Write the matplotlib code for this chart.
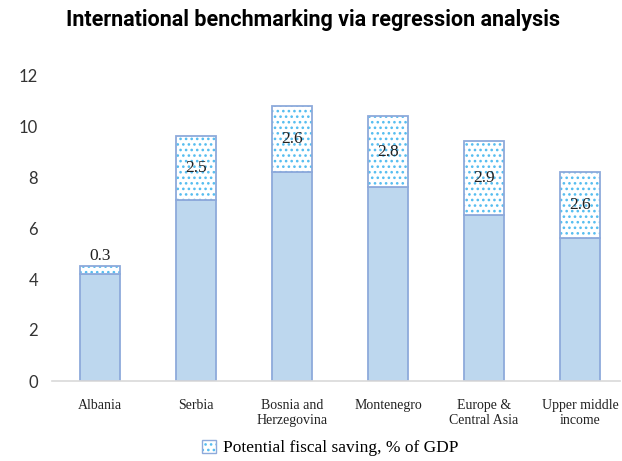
import matplotlib
matplotlib.use("Agg")
import matplotlib.pyplot as plt
from matplotlib.patches import Patch
import numpy as np

categories = ["Albania", "Serbia", "Bosnia and\nHerzegovina", "Montenegro",
              "Europe &\nCentral Asia", "Upper middle\nincome"]
base_values = [4.2, 7.1, 8.2, 7.6, 6.5, 5.6]
saving_values = [0.3, 2.5, 2.6, 2.8, 2.9, 2.6]
saving_labels = ["0.3", "2.5", "2.6", "2.8", "2.9", "2.6"]
y_ticks = [0, 2, 4, 6, 8, 10, 12]

plt.rcParams['hatch.linewidth'] = 1.1

fig = plt.figure(figsize=(6.22, 4.61), dpi=100)
W, H = 622, 461
ax = fig.add_axes([52 / W, 1 - 381 / H, (620 - 52) / W, (381 - 75) / H])

x = np.arange(len(categories))
width = 0.41
base_col = '#bdd7ee'
edge_col = '#8eaadb'
dot_col = '#55bdf0'

ax.bar(x, base_values, width, color=base_col, edgecolor=edge_col, linewidth=1.3)
ax.bar(x, saving_values, width, bottom=base_values, color='white',
       edgecolor=dot_col, linewidth=0, hatch='...')
ax.bar(x, saving_values, width, bottom=base_values, color='none',
       edgecolor=edge_col, linewidth=1.3)

serif = ['Liberation Serif', 'DejaVu Serif']
for i, (b, s, lab) in enumerate(zip(base_values, saving_values, saving_labels)):
    if s < 1:
        ax.text(x[i], b + s + 0.4, lab, ha='center', va='center',
                fontsize=12.5, family=serif, color='#222222')
    else:
        ax.text(x[i], b + s / 2, lab, ha='center', va='center',
                fontsize=12.5, family=serif, color='#222222')

ax.set_xlim(-0.5, -0.5 + (620 - 52) / 96.0)
ax.set_ylim(0, 12)
ax.set_yticks(y_ticks)
ax.set_yticklabels([str(t) for t in y_ticks], fontsize=12, color='#333333',
                   family=['Lato', 'DejaVu Sans'])
ax.set_xticks(x)
ax.set_xticklabels(categories, fontsize=10, family=serif, color='#222222',
                   linespacing=1.15)
ax.tick_params(axis='both', length=0)
ax.tick_params(axis='y', pad=10)
ax.tick_params(axis='x', pad=13)
for sp in ['top', 'right', 'left']:
    ax.spines[sp].set_visible(False)
ax.spines['bottom'].set_color('#d9d9d9')
ax.spines['bottom'].set_linewidth(1.2)

fig.text(313 / W, 1 - 20 / H, "International benchmarking via regression analysis",
         ha='center', va='center', fontsize=15.5, fontweight='semibold',
         family=['Roboto', 'DejaVu Sans'])

handle = Patch(facecolor='white', edgecolor=dot_col, hatch='...', linewidth=0)
handle2 = Patch(facecolor='none', edgecolor=edge_col, linewidth=1.0)
fig.legend([(handle, handle2)], ["Potential fiscal saving, % of GDP"], loc='center',
           bbox_to_anchor=(330 / W, 1 - 448 / H), frameon=False,
           prop={'family': serif, 'size': 12.5}, handlelength=0.8, handleheight=0.8,
           handletextpad=0.4)

fig.savefig("out.png", dpi=100)
